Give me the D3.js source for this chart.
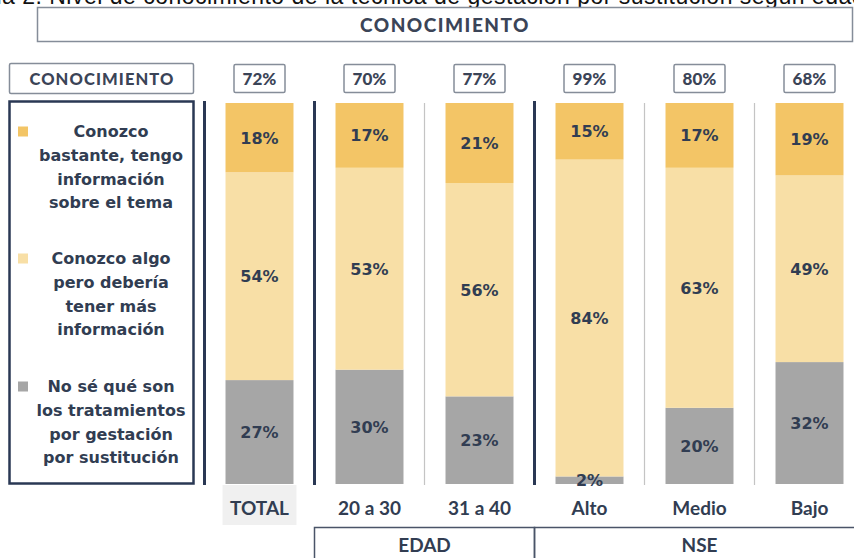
<!DOCTYPE html>
<html>
<head>
<meta charset="utf-8">
<script src="https://cdn.jsdelivr.net/npm/d3@7"></script>
<style>
  html, body { margin: 0; padding: 0; background: #ffffff; }
  svg { display: block; }
</style>
</head>
<body>
<svg id="chart" width="854" height="558"></svg>
<script>
// ---- data ----
const caption = "Tabla 2: Nivel de conocimiento de la técnica de gestación por sustitución según edad";
const title = "CONOCIMIENTO";
const rowHeader = "CONOCIMIENTO";
const categories = ["TOTAL", "20 a 30", "31 a 40", "Alto", "Medio", "Bajo"];
const seriesKeys = ["noSe", "algo", "bastante"];            // bottom -> top
const bastante = [18, 17, 21, 15, 17, 19];                   // Conozco bastante...
const algo = [54, 53, 56, 84, 63, 49];                       // Conozco algo...
const noSe = [27, 30, 23, 2, 20, 32];                        // No sé qué son...
const conocimiento = [72, 70, 77, 99, 80, 68];               // total que conoce
const groupNames = ["EDAD", "NSE"];
const groupFirst = ["20 a 30", "Alto"];
const groupLast = ["31 a 40", "Bajo"];
const legendKeys = ["bastante", "algo", "noSe"];
const legendLines = [
  ["Conozco", "bastante, tengo", "información", "sobre el tema"],
  ["Conozco algo", "pero debería", "tener más", "información"],
  ["No sé qué son", "los tratamientos", "por gestación", "por sustitución"]
];

// ---- styles ----
const colors = { bastante: "#f3c566", algo: "#f8dfa6", noSe: "#a6a6a6" };
const navy = "#2a3854";
const ink = "#313d52";
const boxStroke = "#858d99";

const svg = d3.select("#chart");

// table rows built from the series arrays
const rows = categories.map((c, i) => ({
  cat: c, bastante: bastante[i], algo: algo[i], noSe: noSe[i], total: conocimiento[i]
}));

// each column stacked to 100% of its own total
const stacked = d3.stack().keys(seriesKeys).offset(d3.stackOffsetExpand)(rows);

const x = d3.scaleBand()
  .domain(categories)
  .range([204.5, 864.5])
  .paddingInner(0.382)
  .paddingOuter(0.191);
const y = d3.scaleLinear().domain([0, 1]).range([484, 103]);
const step = x.step();
const cx = c => x(c) + x.bandwidth() / 2;

// ---- caption line (runs past the top edge of the page) ----
const cap = svg.append("text")
  .attr("y", 3.5)
  .attr("font-family", "Liberation Sans, Arial, sans-serif")
  .attr("font-size", 23)
  .attr("fill", "#111")
  .text(caption);
{
  const node = cap.node();
  const full = node.getComputedTextLength();
  const pre = node.getSubStringLength(0, 4);           // "Tabl"
  const rest = caption.length - 4;
  const spacing = (863 - (full - pre)) / rest;
  cap.attr("letter-spacing", spacing)
     .attr("x", 2 - (pre + 4 * spacing));
}

// ---- title box ----
svg.append("rect")
  .attr("x", 37.5).attr("y", 7.5).attr("width", 815).attr("height", 34)
  .attr("fill", "#fff").attr("stroke", boxStroke).attr("stroke-width", 1.5);
svg.append("text")
  .attr("x", 445).attr("y", 31.5)
  .attr("text-anchor", "middle")
  .attr("font-family", "Lato, sans-serif").attr("font-weight", 900)
  .attr("font-size", 19).attr("letter-spacing", 1.5)
  .attr("fill", "#3b4457")
  .text(title);

// ---- header row ----
svg.append("rect")
  .attr("x", 9.5).attr("y", 63.5).attr("width", 184).attr("height", 30)
  .attr("rx", 1.5)
  .attr("fill", "#fff").attr("stroke", boxStroke).attr("stroke-width", 1.5);
svg.append("text")
  .attr("x", 102).attr("y", 84.5)
  .attr("text-anchor", "middle")
  .attr("font-family", "Lato, sans-serif").attr("font-weight", 900)
  .attr("font-size", 16.5).attr("letter-spacing", 1.1)
  .attr("fill", "#3b4457")
  .text(rowHeader);

const head = svg.append("g").selectAll("g").data(rows).join("g")
  .attr("transform", d => `translate(${cx(d.cat)},0)`);
head.append("rect")
  .attr("x", -25.5).attr("y", 64.5).attr("width", 51).attr("height", 28)
  .attr("rx", 1.5)
  .attr("fill", "#fff").attr("stroke", boxStroke).attr("stroke-width", 1.5);
head.append("text")
  .attr("y", 84.5).attr("text-anchor", "middle")
  .attr("font-family", "Lato, sans-serif").attr("font-weight", 900)
  .attr("font-size", 17)
  .attr("fill", "#3b4457")
  .text(d => d.total + "%");

// ---- legend panel ----
svg.append("rect")
  .attr("x", 9.5).attr("y", 101.5).attr("width", 184).attr("height", 382)
  .attr("fill", "#fff").attr("stroke", navy).attr("stroke-width", 2.5);

const legendTop = [131.5, 258.5, 386.5];
const lineGap = 23.6;
const leg = svg.append("g").selectAll("g").data(legendKeys).join("g");
leg.append("rect")
  .attr("x", 18).attr("y", (d, i) => legendTop[i] - 5)
  .attr("width", 10).attr("height", 10)
  .attr("fill", d => colors[d]);
leg.each(function (d, i) {
  d3.select(this).selectAll("text").data(legendLines[i]).join("text")
    .attr("x", 111)
    .attr("y", (t, j) => legendTop[i] + 5.8 + j * lineGap)
    .attr("text-anchor", "middle")
    .attr("font-family", "DejaVu Sans, Verdana, sans-serif")
    .attr("font-weight", "bold")
    .attr("font-size", 16)
    .attr("fill", ink)
    .text(t => t);
});

// ---- column separators ----
const groupStarts = new Set(groupFirst);
const isMajor = (c, i) => i === 0 || groupStarts.has(c);
svg.append("g").selectAll("line").data(categories).join("line")
  .attr("x1", c => cx(c) - step / 2)
  .attr("x2", c => cx(c) - step / 2)
  .attr("y1", (c, i) => isMajor(c, i) ? 101 : 103)
  .attr("y2", 485)
  .attr("stroke", (c, i) => isMajor(c, i) ? navy : "#c4c4c4")
  .attr("stroke-width", (c, i) => isMajor(c, i) ? 3 : 1.2);

// ---- stacked bars ----
const layers = svg.append("g").selectAll("g").data(stacked).join("g")
  .attr("fill", s => colors[s.key]);
layers.selectAll("rect").data(s => s).join("rect")
  .attr("x", d => x(d.data.cat))
  .attr("width", x.bandwidth())
  .attr("y", d => y(d[1]))
  .attr("height", d => y(d[0]) - y(d[1]));

// value labels at segment centres
const labels = svg.append("g");
stacked.forEach(s => {
  labels.selectAll(null).data(s).join("text")
    .attr("x", d => cx(d.data.cat))
    .attr("y", d => (y(d[0]) + y(d[1])) / 2 + 5.9)
    .attr("text-anchor", "middle")
    .attr("font-family", "DejaVu Sans, Verdana, sans-serif")
    .attr("font-weight", "bold")
    .attr("font-size", 16)
    .attr("fill", ink)
    .text(d => d.data[s.key] + "%");
});

// ---- category axis ----
svg.append("rect")
  .attr("x", x("TOTAL") - 3).attr("y", 485)
  .attr("width", x.bandwidth() + 6).attr("height", 40)
  .attr("fill", "#f0f0f0");
const xAxis = svg.append("g")
  .attr("transform", "translate(0,485)")
  .call(d3.axisBottom(x).tickSize(0).tickPadding(0));
xAxis.select(".domain").remove();
xAxis.selectAll("text")
  .attr("dy", null).attr("y", 30)
  .attr("font-family", "Lato, sans-serif").attr("font-weight", "bold")
  .attr("font-size", 19)
  .attr("fill", ink);

// ---- group brackets ----
const grp = svg.append("g").selectAll("g").data(groupNames).join("g");
grp.append("path")
  .attr("d", (g, i) => {
    const x0 = cx(groupFirst[i]) - step / 2;
    const x1 = cx(groupLast[i]) + step / 2;
    return `M${x0},570V527.5H${x1}V570`;
  })
  .attr("fill", "none").attr("stroke", "#4a5468").attr("stroke-width", 1.5);
grp.append("text")
  .attr("x", (g, i) => (cx(groupFirst[i]) + cx(groupLast[i])) / 2)
  .attr("y", 552)
  .attr("text-anchor", "middle")
  .attr("font-family", "Lato, sans-serif").attr("font-weight", "bold")
  .attr("font-size", 19)
  .attr("fill", ink)
  .text(g => g);
</script>
</body>
</html>
